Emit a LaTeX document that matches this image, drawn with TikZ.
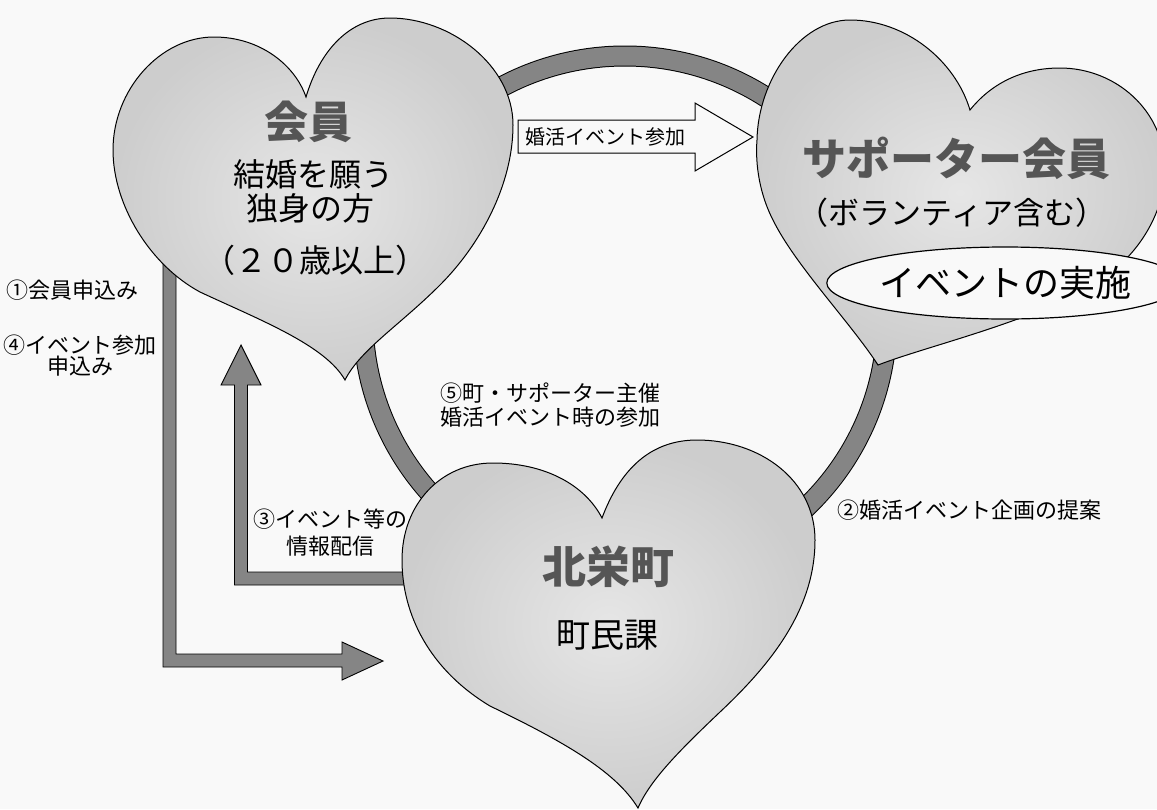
\documentclass[tikz,border=0pt]{standalone}
\usepackage{fontspec}
\setmainfont{Noto Sans CJK JP}
\usetikzlibrary{shapes.geometric}
\definecolor{bandgray}{HTML}{858585}
\definecolor{heartin}{HTML}{E6E6E6}
\definecolor{heartout}{HTML}{CDCDCD}
\definecolor{bg}{HTML}{F9F9F9}
\definecolor{titlegray}{HTML}{555555}
\begin{document}
\begin{tikzpicture}[x=1pt,y=-1pt,
  heart/.style={draw=black, line width=1pt, inner color=heartin, outer color=heartout},
  band/.style={draw=black, line width=0.9pt, fill=bandgray},
  title/.style={font=\fontsize{44}{48}\selectfont\bfseries, text=titlegray, inner sep=0pt},
  sub/.style={font=\fontsize{32}{36}\selectfont, inner sep=0pt},
  lbl/.style={font=\fontsize{22}{24}\selectfont, inner sep=0pt, align=center},
]
\fill[bg] (0,0) rectangle (1157,809);
\useasboundingbox (0,0) rectangle (1157,809);

% ring
\coordinate (ringc) at (625,318);
\draw[line width=21pt, black] (ringc) circle[radius=262pt];
\draw[line width=19pt, bandgray] (ringc) circle[radius=262pt];

% arrow 1/4 : member application
\draw[band] (163,262) -- (176,262) -- (176,654) -- (342,654) -- (342,642) -- (383,661)
  -- (342,680) -- (342,667) -- (163,667) -- cycle;
% arrow 3 : information
\draw[band] (420,572) -- (247.5,572) -- (247.5,385) -- (261,385) -- (241,345) -- (221,385)
  -- (234.5,385) -- (234.5,585) -- (420,585) -- cycle;

% heart 1
\shadedraw[heart] (345,380) .. controls (325,345) and (260,320) .. (200,292)
  .. controls (150,265) and (113,205) .. (113,150)
  .. controls (113,90) and (160,37) .. (214,37)
  .. controls (260,37) and (295,65) .. (306,97)
  .. controls (320,50) and (350,18) .. (390,18)
  .. controls (450,18) and (513,65) .. (513,125)
  .. controls (513,185) and (480,245) .. (440,285)
  .. controls (400,325) and (360,350) .. (345,380) -- cycle;
% heart 2
\shadedraw[heart] (878,365) .. controls (850,322) and (795,265) .. (773,220)
  .. controls (760,195) and (755,165) .. (757,140)
  .. controls (758,80) and (800,20) .. (850,20)
  .. controls (905,20) and (955,60) .. (970,110)
  .. controls (990,85) and (1020,68) .. (1060,68)
  .. controls (1115,68) and (1165,110) .. (1165,170)
  .. controls (1165,210) and (1140,255) .. (1100,280)
  .. controls (1040,320) and (930,345) .. (878,365) -- cycle;
% heart 3
\shadedraw[heart] (638,808) .. controls (615,770) and (560,740) .. (490,706)
  .. controls (430,670) and (402,615) .. (402,560)
  .. controls (402,505) and (440,463) .. (493,463)
  .. controls (545,463) and (585,485) .. (602,518)
  .. controls (620,470) and (650,440) .. (697,440)
  .. controls (760,440) and (815,480) .. (815,540)
  .. controls (815,610) and (770,665) .. (720,712)
  .. controls (680,750) and (650,780) .. (638,808) -- cycle;

% box arrow
\draw[line width=1pt, fill=bg] (518,120) -- (695,120) -- (695,103) -- (753,137)
  -- (695,171) -- (695,153) -- (518,153) -- cycle;
\node[lbl, font=\fontsize{20}{22}\selectfont] (box) at (605,137) {婚活イベント参加};

% ellipse
\node[draw, ellipse, line width=1.2pt, fill=bg, minimum width=300pt, minimum height=72pt,
  inner sep=0pt, font=\fontsize{36}{40}\selectfont] (event) at (1005,283) {イベントの実施};

% heart texts
\node[title] (kaiin) at (308,122) {会員};
\node[sub] (kekkon) at (313,174) {結婚を願う};
\node[sub] (dokushin) at (310,208) {独身の方};
\node[sub] (age) at (315,260) {（２０歳以上）};
\node[title] (sup) at (956,158) {サポーター会員};
\node[sub, font=\fontsize{31}{34}\selectfont] (vol) at (952,213) {（ボランティア含む）};
\node[title] (town) at (608,567) {北栄町};
\node[sub, font=\fontsize{34}{36}\selectfont] (dept) at (607,635) {町民課};

% labels
\node[lbl, anchor=west] (l1) at (6,290) {①会員申込み};
\node[lbl, font=\fontsize{22}{21}\selectfont] (l4) at (80,356) {④イベント参加\\申込み};
\node[lbl, font=\fontsize{22}{27}\selectfont] (l3) at (330,533) {③イベント等の\\情報配信};
\node[lbl, font=\fontsize{22}{24}\selectfont, align=left, anchor=west] (l5) at (440,405) {⑤町・サポーター主催\\婚活イベント時の参加};
\node[lbl, anchor=west] (l2) at (837,510) {②婚活イベント企画の提案};
\end{tikzpicture}
\end{document}
